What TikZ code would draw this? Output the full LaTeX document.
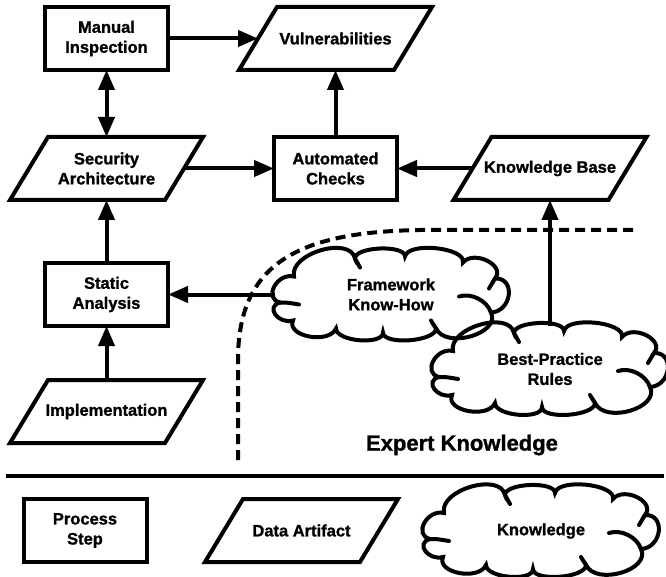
\documentclass[tikz,border=0pt]{standalone}
\usepackage{fontspec}
\setmainfont{Liberation Sans}[BoldFeatures={FakeBold=1.2}]
\usetikzlibrary{arrows.meta,shapes.geometric,calc}

\tikzset{
  every node/.style={font=\fontsize{16.5}{20}\selectfont\bfseries, align=center,
                     inner sep=0pt, outer sep=0pt},
  stepbox/.style={draw, line width=4pt, rectangle, minimum width=123pt, minimum height=63pt},
  databox/.style={rectangle, minimum width=155pt, minimum height=63pt},
  knowcloud/.style={ellipse, minimum width=232pt, minimum height=86pt},
  flow/.style={line width=4pt, -{Triangle[length=20pt,width=16pt]}},
  twoway/.style={line width=4pt, {Triangle[length=20pt,width=16pt]}-{Triangle[length=20pt,width=16pt]}},
  boundary/.style={line width=4pt, dash pattern=on 10pt off 6pt},
  outline/.style={line width=4pt, line join=miter},
  puff/.style={line width=4pt, line join=miter, line cap=round},
}

% slanted outline of a data artifact node
\newcommand\slantbox[1]{%
  \draw[outline] ([xshift=-19pt]#1.south west) -- ([xshift=-19pt]#1.south east)
    -- ([xshift=19pt]#1.north east) -- ([xshift=19pt]#1.north west) -- cycle;}

% puffy outline of a knowledge node, with the inner strokes where puffs meet
\newcommand\puffcloud[1]{%
  \begin{scope}[shift={(#1.center)}]
  \draw[puff] (-111,8)
    .. controls (-128,4) and (-114,-22) .. (-97,-18)
    .. controls (-102,-41) and (-41,-59) .. (-36,-36)
    .. controls (-36,-48) and (14,-50) .. (14,-38)
    .. controls (17,-53) and (75,-47) .. (72,-32)
    .. controls (83,-45) and (115,-29) .. (104,-16)
    .. controls (125,-17) and (121,17) .. (100,18)
    .. controls (110,39) and (55,55) .. (45,34)
    .. controls (45,47) and (-8,51) .. (-8,38)
    .. controls (-8,51) and (-55,47) .. (-55,34)
    .. controls (-62,50) and (-105,42) .. (-98,26)
    .. controls (-113,30) and (-126,12) .. cycle;
  \draw[puff] (-111,8) .. controls (-104,8) .. (-92,10);
  \draw[puff] (-36,-36) .. controls (-34,-31) .. (-31,-27);
  \draw[puff] (104,-16) .. controls (101,-11) .. (98,-6);
  \draw[puff] (100,18) .. controls (96,6) and (80,-2) .. (68,2);
  \draw[puff] (45,34) .. controls (43,31) .. (40,26);
  \end{scope}}

\begin{document}
\begin{tikzpicture}[x=1pt, y=-1pt]
\useasboundingbox (0,0) rectangle (666,577);

% process steps
\node[stepbox] (manual) at (106.5,38.5) {Manual\\Inspection};
\node[stepbox] (checks) at (335.5,168.5) {Automated\\Checks};
\node[stepbox] (static) at (106.5,294.5) {Static\\Analysis};

% data artifacts
\node[databox] (vuln) at (335.5,38.5) {Vulnerabilities};
\node[databox] (secarch) at (106.5,168.5) {Security\\Architecture};
\node[databox] (kb) at (550,168.5) {Knowledge Base};
\node[databox] (impl) at (106.5,411.5) {Implementation};
\slantbox{vuln}
\slantbox{secarch}
\slantbox{kb}
\slantbox{impl}

% expert knowledge
\node[knowcloud] (framework) at (391,294.5) {Framework\\Know-How};
\node[knowcloud] (rules) at (550,369) {Best-Practice\\Rules};
\puffcloud{framework}
\puffcloud{rules}

% boundary of the expert knowledge region
\coordinate (bndA) at (238,460);
\coordinate (bndB) at (238,360);
\coordinate (bndC) at (420,230);
\coordinate (bndD) at (637,230);
\draw[boundary] (bndA) -- (bndB) .. controls (238,262) and (300,232) .. (bndC) -- (bndD);
\node[font=\fontsize{22}{26}\selectfont\bfseries] (expert) at (462,445) {Expert Knowledge};

% connectors
\draw[flow] (manual) -- (vuln);
\draw[twoway] (manual) -- (secarch);
\draw[flow] (secarch) -- (checks);
\draw[flow] (checks) -- (vuln);
\draw[flow] (kb) -- (checks);
\draw[flow] (rules) -- (kb);
\draw[flow] (framework) -- (static);
\draw[flow] (static) -- (secarch);
\draw[flow] (impl) -- (static);

% legend
\coordinate (sepL) at (6,476);
\coordinate (sepR) at (664,476);
\draw[line width=4.5pt] (sepL) -- (sepR);
\node[stepbox] (legstep) at (85,530.5) {Process\\Step};
\node[databox] (legdata) at (301.5,530.5) {Data Artifact};
\slantbox{legdata}
\node[knowcloud] (legknow) at (541,531) {Knowledge};
\puffcloud{legknow}
\end{tikzpicture}
\end{document}
